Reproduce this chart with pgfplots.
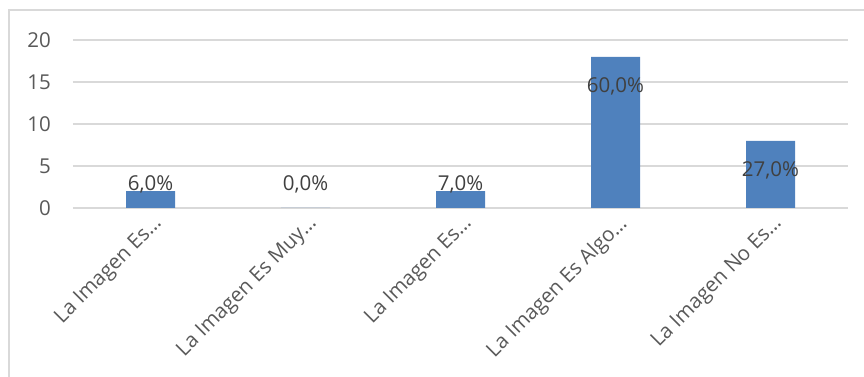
\documentclass[border=0pt]{standalone}
\usepackage{fontspec}
\setmainfont{Open Sans}
\usepackage{pgfplots}
\pgfplotsset{compat=1.18}
\definecolor{barblue}{HTML}{4F81BD}
\definecolor{gridgray}{HTML}{D9D9D9}
\definecolor{ticktext}{HTML}{595959}
\definecolor{labtext}{HTML}{404040}
\begin{document}
\begin{tikzpicture}[x=1pt,y=1pt]
\useasboundingbox (0,0) rectangle (864,377);
\draw[gridgray, line width=1.5pt] (9,-5) -- (9,367) -- (870,367);
\begin{axis}[
  at={(73pt,169pt)}, anchor=south west,
  scale only axis, width=775pt, height=168pt,
  xmin=-0.5, xmax=4.5, ymin=0, ymax=20,
  ytick={0,5,10,15,20},
  xtick={0,1,2,3,4},
  xticklabels={La Imagen Es…, La Imagen Es Muy…, La Imagen Es…, La Imagen Es Algo…, La Imagen No Es…},
  axis line style={draw=none},
  major tick length=0pt,
  ymajorgrids, grid style={gridgray, line width=1.5pt},
  /pgf/number format/assume math mode=true,
  yticklabel style={font=\fontsize{20.5}{25}\selectfont, text=ticktext, inner sep=0pt, xshift=-22pt},
  xticklabel style={font=\fontsize{20.5}{25}\selectfont, text=ticktext, xshift=1.5pt, yshift=-5.5pt, rotate=45, anchor=north east, inner sep=0pt},
  clip=false,
]
\addplot[ybar, bar width=49pt, fill=barblue, draw=none] coordinates {(0,2) (1,0) (2,2) (3,18) (4,8)};
\addplot[draw=none, mark=none, forget plot, nodes near coords, point meta=explicit symbolic,
  nodes near coords align=center,
  every node near coord/.append style={font=\fontsize{20.5}{25}\selectfont, text=labtext, inner sep=0pt}]
  coordinates {(0,2.86)[6,0\%] (1,2.86)[0,0\%] (2,2.86)[7,0\%] (3,14.5)[60,0\%] (4,4.5)[27,0\%]};
\end{axis}
\end{tikzpicture}
\end{document}
